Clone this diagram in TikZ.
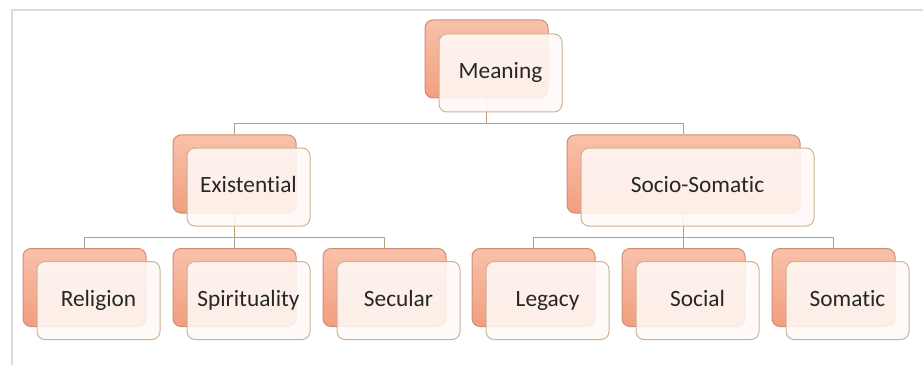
\documentclass[tikz,border=0pt]{standalone}
\usepackage{fontspec}
\setmainfont{Carlito}[Ligatures=NoCommon]
\usetikzlibrary{backgrounds}
\definecolor{BackTopClr}{RGB}{249,193,170}
\definecolor{BackBotClr}{RGB}{242,158,126}
\definecolor{BackLineClr}{RGB}{204,142,116}
\definecolor{FrontClr}{RGB}{255,249,246}
\definecolor{FrontLineClr}{RGB}{202,180,152}
\definecolor{LinkClr}{RGB}{186,160,122}
\definecolor{FrameClr}{RGB}{226,218,206}

\tikzset{
  backbox/.style={draw=BackLineClr,line width=.75pt,rounded corners=6pt,
    top color=BackTopClr,bottom color=BackBotClr,
    minimum width=92.25pt,minimum height=58.5pt,inner sep=0pt},
  frontbox/.style={draw=FrontLineClr,line width=.75pt,rounded corners=6pt,
    fill=FrontClr,fill opacity=.88,text opacity=1,text=black!85,
    minimum width=92.25pt,minimum height=58.5pt,inner sep=0pt,
    text height=12pt,text depth=3.5pt,
    font=\fontsize{17.5}{20}\selectfont},
  widebox/.style={minimum width=174.75pt},
  link/.style={draw=LinkClr,line width=.9pt}
}

\begin{document}
\begin{tikzpicture}[x=0.75pt,y=-0.75pt]
\useasboundingbox (0,0) rectangle (923,367);

% frame
\draw[FrameClr,line width=1.5pt] (12,365) -- (12,10) -- (923,10);

% top
\node[backbox] (meaningB) at (486.5,59) {};
\node[frontbox] (meaning) at (500.5,73) {Meaning};

% second level
\node[backbox] (existB) at (234.5,174) {};
\node[frontbox] (exist) at (248.5,187) {Existential};
\node[backbox,widebox] (socioB) at (683.5,174) {};
\node[frontbox,widebox] (socio) at (697.5,187) {Socio-Somatic};

% leaves
\node[backbox] (religionB) at (84.5,287.5) {};
\node[frontbox] (religion) at (98.5,300.5) {Religion};
\node[backbox] (spiritB) at (234.5,287.5) {};
\node[frontbox] (spirit) at (248.5,300.5) {Spirituality};
\node[backbox] (secularB) at (384.5,287.5) {};
\node[frontbox] (secular) at (398.5,300.5) {Secular};
\node[backbox] (legacyB) at (533.5,287.5) {};
\node[frontbox] (legacy) at (547.5,300.5) {Legacy};
\node[backbox] (socialB) at (683.5,287.5) {};
\node[frontbox] (social) at (697.5,300.5) {Social};
\node[backbox] (somaticB) at (833.5,287.5) {};
\node[frontbox] (somatic) at (847.5,300.5) {Somatic};

% connectors
\begin{scope}[on background layer]
\draw[link] (meaningB.south) -- ++(0,25) -| (existB.north);
\draw[link] (meaningB.south) -- ++(0,25) -| (socioB.north);
\draw[link] (existB.south) -- ++(0,24) -| (religionB.north);
\draw[link] (existB.south) -- ++(0,24) -| (spiritB.north);
\draw[link] (existB.south) -- ++(0,24) -| (secularB.north);
\draw[link] (socioB.south) -- ++(0,24) -| (legacyB.north);
\draw[link] (socioB.south) -- ++(0,24) -| (socialB.north);
\draw[link] (socioB.south) -- ++(0,24) -| (somaticB.north);
\end{scope}

\end{tikzpicture}
\end{document}
